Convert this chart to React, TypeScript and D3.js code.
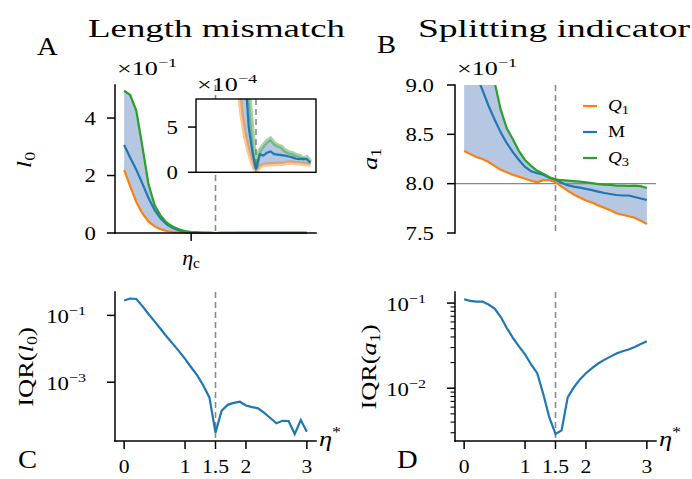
import React from "react";
import * as d3 from "d3";

// eta* grid shared by every panel
const eta = [0, 0.1, 0.2, 0.3, 0.4, 0.5, 0.6, 0.7, 0.8, 0.9, 1.0, 1.1, 1.2, 1.3, 1.4, 1.5,
  1.6, 1.7, 1.8, 1.9, 2.0, 2.1, 2.2, 2.3, 2.4, 2.5, 2.6, 2.7, 2.8, 2.9, 3.0];

// length mismatch l0 : quartiles and median
const l0Q1 = [2.19e-1, 1.62e-1, 1.08e-1, 6.8e-2, 4.0e-2, 2.3e-2, 1.3e-2, 6.8e-3, 3.4e-3, 1.8e-3,
  1.05e-3, 6.5e-4, 4.0e-4, 2.3e-4, 1.0e-4, 1.0e-5, 6.0e-5, 8.2e-5, 8.5e-5, 9.0e-5, 9.3e-5,
  9.5e-5, 9.5e-5, 1.0e-4, 1.07e-4, 1.05e-4, 1.0e-4, 1.0e-4, 9.5e-5, 9.0e-5, 8.2e-5];
const l0Med = [3.06e-1, 2.62e-1, 2.2e-1, 1.72e-1, 1.22e-1, 8.0e-2, 5.0e-2, 3.0e-2, 1.7e-2, 9.0e-3,
  4.5e-3, 2.2e-3, 1.1e-3, 5.0e-4, 2.3e-4, 3.0e-5, 2.0e-4, 1.85e-4, 2.15e-4, 2.3e-4, 2.0e-4,
  1.95e-4, 1.9e-4, 1.85e-4, 1.75e-4, 1.65e-4, 1.5e-4, 1.45e-4, 1.5e-4, 1.45e-4, 1.05e-4];
const l0Q3 = [4.95e-1, 4.8e-1, 4.25e-1, 3.0e-1, 1.7e-1, 9.7e-2, 6.0e-2, 3.6e-2, 2.2e-2, 1.3e-2,
  7.0e-3, 3.5e-3, 2.0e-3, 9.0e-4, 4.5e-4, 4.0e-5, 2.4e-4, 2.95e-4, 3.4e-4, 3.7e-4, 3.2e-4,
  2.95e-4, 2.8e-4, 2.4e-4, 2.2e-4, 2.1e-4, 1.9e-4, 1.8e-4, 1.5e-4, 1.65e-4, 1.15e-4];

// splitting indicator a1 : quartiles and median
const a1Q1 = [0.833, 0.830, 0.827, 0.825, 0.822, 0.818, 0.814, 0.8115, 0.809, 0.807, 0.805,
  0.803, 0.8013, 0.8035, 0.8035, 0.8015, 0.797, 0.793, 0.789, 0.786, 0.783, 0.781, 0.778,
  0.7755, 0.773, 0.770, 0.7685, 0.767, 0.7655, 0.7625, 0.759];
const a1Med = [0.935, 0.923, 0.910, 0.895, 0.879, 0.865, 0.852, 0.841, 0.832, 0.824, 0.817,
  0.8125, 0.8105, 0.809, 0.806, 0.804, 0.801, 0.7985, 0.797, 0.796, 0.7947, 0.7935, 0.792,
  0.7905, 0.7895, 0.7885, 0.788, 0.788, 0.7865, 0.785, 0.7835];
const a1Q3 = [0.944, 0.936, 0.931, 0.928, 0.917, 0.903, 0.875, 0.856, 0.845, 0.833, 0.824,
  0.818, 0.813, 0.810, 0.8065, 0.8045, 0.8035, 0.803, 0.8025, 0.802, 0.8013, 0.8005, 0.7995,
  0.799, 0.7987, 0.798, 0.798, 0.7978, 0.798, 0.7975, 0.7956];

// interquartile ranges
const iqrL0 = [0.28, 0.32, 0.31, 0.19, 0.11, 0.066, 0.039, 0.023, 0.014, 0.0085, 0.005, 0.0028,
  0.0016, 0.0008, 0.00035, 0.000031, 0.00014, 0.00021, 0.00024, 0.00026, 0.0002, 0.00018,
  0.000165, 0.00012, 0.000085, 0.000059, 0.00007, 0.000069, 0.000028, 0.000074, 0.000033];
const iqrA1 = [0.111, 0.106, 0.104, 0.104, 0.096, 0.086, 0.069, 0.051, 0.039, 0.031, 0.025,
  0.019, 0.015, 0.0085, 0.0045, 0.0029, 0.0032, 0.0078, 0.0102, 0.0127, 0.0150, 0.0172, 0.0195,
  0.0215, 0.0235, 0.0255, 0.0272, 0.0285, 0.0305, 0.033, 0.0355];

const etaC = 1.1;
const etaStar = 1.5;
const xTicks = [0, 1, 1.5, 2, 3];
const l0Ticks = [0, 0.2, 0.4];
const l0TickLabels = ["0", "2", "4"];
const insetTicks = [0, 5e-4];
const insetTickLabels = ["0", "5"];
const a1Ticks = [0.75, 0.8, 0.85, 0.9];
const a1TickLabels = ["7.5", "8.0", "8.5", "9.0"];
const iqrL0Ticks = [1e-1, 1e-3];
const iqrA1Ticks = [1e-1, 1e-2];

const BLUE = "#1f77b4", ORANGE = "#ff7f0e", GREEN = "#2ca02c";
const FILL = "#b6c7e1";
const FONT = "'Liberation Serif', 'Times New Roman', serif";
const SX = 1.2;

const xA = d3.scaleLinear().domain([-0.15, 3.15]).range([115, 316]);
const xB = d3.scaleLinear().domain([-0.15, 3.15]).range([455, 656]);
const xIn = d3.scaleLinear().domain([-0.15, 3.15]).range([196, 316]);
const yA = d3.scaleLinear().domain([0, 0.515]).range([233, 85]);
const yIn = d3.scaleLinear().domain([0, 8.1e-4]).range([172.3, 99]);
const yB = d3.scaleLinear().domain([0.75, 0.9]).range([233, 85]);
const yC = d3.scaleLog().domain([Math.pow(10, -4.76), Math.pow(10, -0.3)]).range([441, 292]);
const yD = d3.scaleLog().domain([Math.pow(10, -2.62), Math.pow(10, -0.87)]).range([441, 292]);

const mkLine = (x: any, y: any, ys: number[]) =>
  d3.line<number>().x((_, i) => x(eta[i])).y((d) => y(d))(ys) || "";
const mkArea = (x: any, y: any, lo: number[], hi: number[]) =>
  d3.area<number>().x((_, i) => x(eta[i])).y0((d) => y(d)).y1((_, i) => y(hi[i]))(lo) || "";

function T({ x, y, size, anchor = "start", rot = 0, sx = SX, children, ...rest }: any) {
  const tr = `translate(${x},${y})${rot ? ` rotate(${rot})` : ""} scale(${sx},1)`;
  return (
    <text transform={tr} fontSize={size} textAnchor={anchor} fontFamily={FONT} fill="#000" {...rest}>
      {children}
    </text>
  );
}

const Pow = ({ base, exp, size }: any) => (
  <>
    <tspan>{base}</tspan>
    <tspan fontSize={size * 0.7} dy={-size * 0.42}>{exp}</tspan>
  </>
);

const Spine = (p: any) => <line {...p} stroke="#000" strokeWidth={1.5} strokeLinecap="square" />;
const Dash = ({ x, y1, y2 }: any) => (
  <line x1={x} x2={x} y1={y1} y2={y2} stroke="#8a8a8a" strokeWidth={1.6} strokeDasharray="6,4" />
);

function XAxisBottom({ x, y, x0, x1, label }: any) {
  return (
    <g>
      <Spine x1={x0} x2={x1} y1={y} y2={y} />
      {xTicks.map((t) => (
        <g key={t}>
          <line x1={x(t)} x2={x(t)} y1={y} y2={y + 8} stroke="#000" strokeWidth={1.5} />
          <T x={x(t)} y={473} size={18} anchor="middle">{String(t)}</T>
        </g>
      ))}
      <T x={label} y={446} size={22}>
        <tspan fontStyle="italic">η</tspan>
        <tspan fontSize={15} dy={-9}>*</tspan>
      </T>
    </g>
  );
}

function LogYAxis({ x, y, ticks, minor }: any) {
  const [lo, hi] = y.domain();
  return (
    <g>
      <Spine x1={x} x2={x} y1={y(hi)} y2={y(lo)} />
      {minor &&
        y.ticks().filter((t: number) => !ticks.some((m: number) => Math.abs(m - t) / m < 1e-6)).map((t: number) => (
          <line key={t} x1={x - 4.5} x2={x} y1={y(t)} y2={y(t)} stroke="#000" strokeWidth={1.1} />
        ))}
      {ticks.map((t: number) => (
        <g key={t}>
          <line x1={x - 8} x2={x} y1={y(t)} y2={y(t)} stroke="#000" strokeWidth={1.5} />
          <T x={x - 29} y={y(t) + 8} size={19} anchor="end">
            <Pow base="10" exp={"−" + String(-Math.round(Math.log10(t)))} size={19} />
          </T>
        </g>
      ))}
    </g>
  );
}

export default function App() {
  return (
    <svg width={692} height={479} style={{ position: "absolute", left: 0, top: 0, background: "#fff" }}>
      <defs>
        <clipPath id="clipB"><rect x={455} y={85} width={201} height={148} /></clipPath>
        <clipPath id="clipIn"><rect x={196} y={99} width={120} height={73.3} /></clipPath>
      </defs>

      {/* titles and panel letters */}
      <T x={88} y={37} size={26} sx={1} textLength={257} lengthAdjust="spacingAndGlyphs">Length mismatch</T>
      <T x={418} y={37} size={26} sx={1} textLength={272} lengthAdjust="spacingAndGlyphs">Splitting indicator</T>
      <T x={37} y={55} size={26} sx={1.1}>A</T>
      <T x={377} y={53} size={26} sx={1.1}>B</T>
      <T x={18} y={468} size={26} sx={1.1}>C</T>
      <T x={397} y={468} size={26} sx={1.1}>D</T>

      {/* ---------- panel A ---------- */}
      <g>
        <Dash x={xA(etaStar)} y1={85} y2={233} />
        <path d={mkArea(xA, yA, l0Q1, l0Q3)} fill={FILL} />
        <path d={mkLine(xA, yA, l0Q1)} fill="none" stroke={ORANGE} strokeWidth={2.2} />
        <path d={mkLine(xA, yA, l0Med)} fill="none" stroke={BLUE} strokeWidth={2.2} />
        <path d={mkLine(xA, yA, l0Q3)} fill="none" stroke={GREEN} strokeWidth={2.2} />
        <Spine x1={115} x2={115} y1={85} y2={233} />
        <Spine x1={115} x2={316} y1={233} y2={233} />
        {l0Ticks.map((t, i) => (
          <g key={t}>
            <line x1={107} x2={115} y1={yA(t)} y2={yA(t)} stroke="#000" strokeWidth={1.5} />
            <T x={96} y={yA(t) + 6.5} size={19} anchor="end">{l0TickLabels[i]}</T>
          </g>
        ))}
        <line x1={xA(etaC)} x2={xA(etaC)} y1={233} y2={241} stroke="#000" strokeWidth={1.5} />
        <T x={xA(etaC) - 9} y={265} size={20} sx={1.1}>
          <tspan fontStyle="italic">η</tspan>
          <tspan fontSize={14} dy={3}>c</tspan>
        </T>
        <T x={117} y={75} size={18} sx={1.45}><Pow base="×10" exp="−1" size={18} /></T>
        <T x={31} y={160} size={22} rot={-90} anchor="middle">
          <tspan fontStyle="italic">l</tspan>
          <tspan fontSize={15} dy={4}>0</tspan>
        </T>

        {/* inset */}
        <rect x={196} y={99} width={120} height={73.3} fill="#fff" />
        <g clipPath="url(#clipIn)">
          <Dash x={xIn(etaStar)} y1={99} y2={172.3} />
          <path d={mkArea(xIn, yIn, l0Q1, l0Q3)} fill={FILL} />
          <path d={mkLine(xIn, yIn, l0Q1)} fill="none" stroke={ORANGE} strokeOpacity={0.45} strokeWidth={4.5} />
          <path d={mkLine(xIn, yIn, l0Q3)} fill="none" stroke={GREEN} strokeOpacity={0.45} strokeWidth={4.5} />
          <path d={mkLine(xIn, yIn, l0Med)} fill="none" stroke={BLUE} strokeWidth={2.2} />
        </g>
        <rect x={196} y={99} width={120} height={73.3} fill="none" stroke="#000" strokeWidth={1.4} />
        {insetTicks.map((t, i) => (
          <g key={t}>
            <line x1={188} x2={196} y1={yIn(t)} y2={yIn(t)} stroke="#000" strokeWidth={1.5} />
            <T x={178} y={yIn(t) + 6.5} size={19} anchor="end">{insetTickLabels[i]}</T>
          </g>
        ))}
        <T x={197} y={91} size={18} sx={1.45}><Pow base="×10" exp="−4" size={18} /></T>
      </g>

      {/* ---------- panel B ---------- */}
      <g>
        <g clipPath="url(#clipB)">
          <path d={mkArea(xB, yB, a1Q1, a1Q3)} fill={FILL} />
        </g>
        <line x1={455} x2={656} y1={yB(0.8)} y2={yB(0.8)} stroke="#888" strokeWidth={1.3} />
        <Dash x={xB(etaStar)} y1={85} y2={233} />
        <g clipPath="url(#clipB)">
          <path d={mkLine(xB, yB, a1Q1)} fill="none" stroke={ORANGE} strokeWidth={2.2} />
          <path d={mkLine(xB, yB, a1Med)} fill="none" stroke={BLUE} strokeWidth={2.2} />
          <path d={mkLine(xB, yB, a1Q3)} fill="none" stroke={GREEN} strokeWidth={2.2} />
        </g>
        <Spine x1={455} x2={455} y1={85} y2={233} />
        {a1Ticks.map((t, i) => (
          <g key={t}>
            <line x1={447} x2={455} y1={yB(t)} y2={yB(t)} stroke="#000" strokeWidth={1.5} />
            <T x={434} y={yB(t) + 6.5} size={19} anchor="end">{a1TickLabels[i]}</T>
          </g>
        ))}
        <T x={457} y={75} size={18} sx={1.45}><Pow base="×10" exp="−1" size={18} /></T>
        <T x={377} y={159} size={22} rot={-90} anchor="middle">
          <tspan fontStyle="italic">a</tspan>
          <tspan fontSize={15} dy={4}>1</tspan>
        </T>
        {[
          { c: ORANGE, y: 106, lab: <><tspan fontStyle="italic">Q</tspan><tspan fontSize={12} dy={3}>1</tspan></> },
          { c: BLUE, y: 132, lab: <tspan>M</tspan> },
          { c: GREEN, y: 158, lab: <><tspan fontStyle="italic">Q</tspan><tspan fontSize={12} dy={3}>3</tspan></> },
        ].map((e) => (
          <g key={e.y}>
            <line x1={583} x2={597} y1={e.y} y2={e.y} stroke={e.c} strokeWidth={2.2} />
            <T x={608} y={e.y + 5} size={16}>{e.lab}</T>
          </g>
        ))}
      </g>

      {/* ---------- panel C ---------- */}
      <g>
        <Dash x={xA(etaStar)} y1={292} y2={441} />
        <path d={mkLine(xA, yC, iqrL0)} fill="none" stroke={BLUE} strokeWidth={2.2} />
        <LogYAxis x={115} y={yC} ticks={iqrL0Ticks} minor={false} />
        <XAxisBottom x={xA} y={441} x0={115} x1={316} label={319} />
        <T x={33} y={367} size={22} rot={-90} anchor="middle">
          <tspan>IQR(</tspan>
          <tspan fontStyle="italic">l</tspan>
          <tspan fontSize={15} dy={4}>0</tspan>
          <tspan dy={-4}>)</tspan>
        </T>
      </g>

      {/* ---------- panel D ---------- */}
      <g>
        <Dash x={xB(etaStar)} y1={292} y2={441} />
        <path d={mkLine(xB, yD, iqrA1)} fill="none" stroke={BLUE} strokeWidth={2.2} />
        <LogYAxis x={455} y={yD} ticks={iqrA1Ticks} minor={true} />
        <XAxisBottom x={xB} y={441} x0={455} x1={656} label={659} />
        <T x={376} y={367} size={22} rot={-90} anchor="middle">
          <tspan>IQR(</tspan>
          <tspan fontStyle="italic">a</tspan>
          <tspan fontSize={15} dy={4}>1</tspan>
          <tspan dy={-4}>)</tspan>
        </T>
      </g>
    </svg>
  );
}
